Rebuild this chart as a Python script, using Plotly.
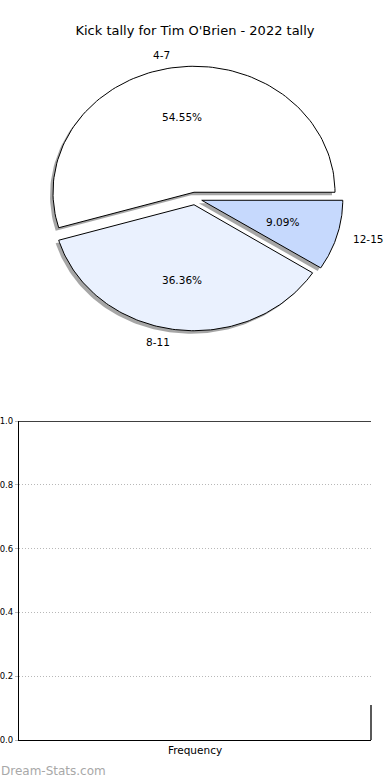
import numpy as np
import plotly.graph_objects as go

# ---- data ----
labels = ["4-7", "8-11", "12-15"]
counts = [6, 4, 1]
colors = ["#ffffff", "#eaf1fe", "#c6d9fd"]
explode = [0.05, 0.05, 0.05]
title_text = "Kick tally for Tim O'Brien - 2022 tally"
bar_categories = ["Frequency"]
bar_values = [0]
y_ticks = [0.0, 0.2, 0.4, 0.6, 0.8, 1.0]
watermark = "Dream-Stats.com"

W, H = 390, 780
FONT = "DejaVu Sans"

fig = go.Figure()

fr = np.array(counts, dtype=float) / sum(counts)
ends = np.cumsum(fr) * 360.0
starts = np.concatenate([[0.0], ends[:-1]])

# pixel scale of pie axes (used for shadow offset in data units)
px_x, px_y = 141.0, 126.0
sh_dx, sh_dy = -3.0 / px_x, -3.0 / px_y


def wedge(t1, t2, cx, cy):
    th = np.radians(np.linspace(t1, t2, 120))
    xs = np.concatenate([[cx], cx + np.cos(th), [cx]])
    ys = np.concatenate([[cy], cy + np.sin(th), [cy]])
    return xs, ys


geo = []
for i in range(len(counts)):
    mid = np.radians((starts[i] + ends[i]) / 2)
    cx = explode[i] * np.cos(mid)
    cy = explode[i] * np.sin(mid)
    geo.append((cx, cy, mid))

# shadows first
for i in range(len(counts)):
    cx, cy, mid = geo[i]
    xs, ys = wedge(starts[i], ends[i], cx + sh_dx, cy + sh_dy)
    fig.add_trace(go.Scatter(x=xs, y=ys, xaxis="x", yaxis="y", mode="lines",
                             fill="toself", fillcolor="rgba(77,77,77,0.5)",
                             line=dict(width=0), hoverinfo="skip", showlegend=False))
# wedges
for i in range(len(counts)):
    cx, cy, mid = geo[i]
    xs, ys = wedge(starts[i], ends[i], cx, cy)
    fig.add_trace(go.Scatter(x=xs, y=ys, xaxis="x", yaxis="y", mode="lines",
                             fill="toself", fillcolor=colors[i],
                             line=dict(width=1, color="black"), hoverinfo="skip",
                             showlegend=False, name=labels[i]))

annotations = []
for i in range(len(counts)):
    cx, cy, mid = geo[i]
    lx = cx + 1.1 * np.cos(mid)
    ly = cy + 1.1 * np.sin(mid)
    annotations.append(dict(x=lx, y=ly, xref="x", yref="y", text=labels[i],
                            showarrow=False, xanchor="left" if lx > 0 else "right",
                            yanchor="middle", font=dict(family=FONT, size=10.5, color="black")))
    px = cx + 0.6 * np.cos(mid)
    py = cy + 0.6 * np.sin(mid)
    annotations.append(dict(x=px, y=py, xref="x", yref="y", text=f"{fr[i]*100:.2f}%",
                            showarrow=False, xanchor="center", yanchor="middle",
                            font=dict(family=FONT, size=10.5, color="black")))

annotations.append(dict(x=-0.003, y=9.0 / H, xref="paper", yref="paper", text=watermark,
                        showarrow=False, xanchor="left", yanchor="middle",
                        font=dict(family=FONT, size=12, color="#a8a8a8")))

# empty bar chart
fig.add_trace(go.Bar(x=bar_categories, y=bar_values, xaxis="x2", yaxis="y2",
                     marker=dict(color="#c6d9fd", line=dict(width=0)),
                     showlegend=False, hoverinfo="skip"))

shapes = [
    dict(type="line", xref="x2 domain", yref="y2", x0=0, x1=1, y0=1, y1=1,
         line=dict(color="black", width=1.3)),
    dict(type="line", xref="x2 domain", yref="y2", x0=1, x1=1, y0=0, y1=0.11,
         line=dict(color="black", width=1.3)),
]

fig.update_layout(
    width=W, height=H, margin=dict(l=0, r=0, t=0, b=0, autoexpand=False),
    paper_bgcolor="white", plot_bgcolor="white",
    title=dict(text=title_text, x=0.5, xanchor="center", y=1 - 30.0 / H, yanchor="middle",
               font=dict(family=FONT, size=13, color="black")),
    xaxis=dict(domain=[0, 1], range=[-195.0 / px_x, 195.0 / px_x], visible=False,
               fixedrange=True, automargin=False),
    yaxis=dict(domain=[0.5, 1], range=[(198.5 - 390.0) / px_y, 198.5 / px_y], visible=False,
               fixedrange=True, automargin=False),
    xaxis2=dict(domain=[19.0 / W, 371.0 / W], anchor="y2", type="category",
                range=[-0.5, 0.5], showgrid=False, zeroline=False, automargin=False,
                showline=True, linecolor="black", linewidth=1.3, ticks="",
                tickfont=dict(family=FONT, size=10.5, color="black")),
    yaxis2=dict(domain=[40.0 / H, 359.0 / H], anchor="x2", range=[0, 1], automargin=False,
                tickvals=y_ticks, ticktext=[f"{v:.1f}" for v in y_ticks],
                showgrid=True, gridcolor="#b8b8b8", griddash="1px,2px", gridwidth=1,
                zeroline=False, showline=True, linecolor="black", linewidth=1.3,
                ticks="outside", ticklen=3, tickcolor="#b8b8b8",
                tickfont=dict(family=FONT, size=8.5, color="black")),
    annotations=annotations,
    shapes=shapes,
)

fig.write_html(
    "out.html", config={"displayModeBar": False, "responsive": False},
    post_script=(
        "var d=document.documentElement,b=document.body;"
        "d.style.margin='0';d.style.padding='0';d.style.overflow='hidden';d.style.height='780px';"
        "b.style.margin='0';b.style.padding='0';b.style.overflow='hidden';b.style.height='780px';"
    ),
)
